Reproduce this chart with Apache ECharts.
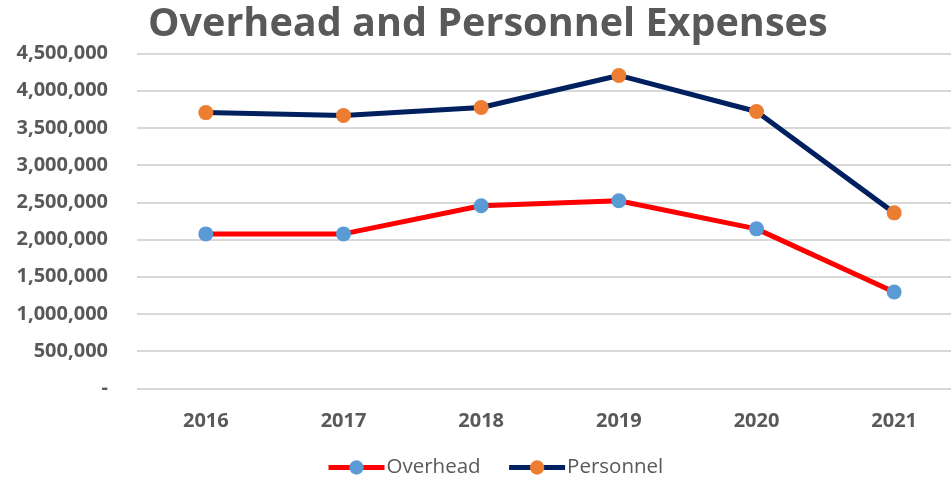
<!DOCTYPE html>
<html>
<head>
<meta charset="utf-8">
<script src="https://cdn.jsdelivr.net/npm/echarts@6/dist/echarts.min.js"></script>
<style>
  html, body { margin: 0; padding: 0; background: #fff; }
  #main { width: 951px; height: 483px; }
</style>
</head>
<body>
<div id="main"></div>
<script>
var years = ['2016', '2017', '2018', '2019', '2020', '2021'];
var overhead = [2075000, 2075000, 2453000, 2520000, 2143000, 1294000];
var personnel = [3706000, 3666000, 3774000, 4205000, 3720000, 2358000];

var chartDom = document.getElementById('main');
var myChart = echarts.init(chartDom);
var option;

var font = '"Open Sans", sans-serif';

option = {
    backgroundColor: '#ffffff',
    animation: false,
    title: {
        text: 'Overhead and Personnel Expenses',
        left: 143,
        top: 0,
        textStyle: {
            fontFamily: font,
            fontSize: 39.6,
            fontWeight: 'bold',
            color: '#595959'
        }
    },
    legend: {
        bottom: 0,
        left: 321,
        itemWidth: 56,
        itemHeight: 18,
        itemGap: 26,
        lineStyle: { width: 5 },
        textStyle: {
            fontFamily: font,
            fontSize: 20.5,
            color: '#595959',
            padding: [0, 0, 0, -3]
        },
        data: ['Overhead', 'Personnel']
    },
    grid: {
        left: 137,
        width: 826,
        top: 53.5,
        bottom: 94.7,
        outerBoundsMode: 'none'
    },
    xAxis: {
        type: 'category',
        data: years,
        boundaryGap: true,
        axisLine: { show: false },
        axisTick: { show: false },
        axisLabel: {
            margin: 23,
            fontFamily: font,
            fontSize: 20,
            fontWeight: 'bold',
            color: '#595959'
        }
    },
    yAxis: {
        type: 'value',
        min: 0,
        max: 4500000,
        interval: 500000,
        axisLine: { show: false },
        axisTick: { show: false },
        splitLine: { lineStyle: { color: '#d9d9d9', width: 2 } },
        axisLabel: {
            margin: 29,
            fontFamily: font,
            fontSize: 20,
            fontWeight: 'bold',
            color: '#595959',
            formatter: function (v) {
                return v === 0 ? '-' : v.toLocaleString('en-US');
            }
        }
    },
    series: [{
        name: 'Overhead',
        type: 'line',
        data: overhead,
        symbol: 'circle',
        symbolSize: 15,
        lineStyle: { color: '#ff0000', width: 5 },
        itemStyle: { color: '#5b9bd5' }
    }, {
        name: 'Personnel',
        type: 'line',
        data: personnel,
        symbol: 'circle',
        symbolSize: 15,
        lineStyle: { color: '#002060', width: 5 },
        itemStyle: { color: '#ed7d31' }
    }]
};

option && myChart.setOption(option);
</script>
</body>
</html>
